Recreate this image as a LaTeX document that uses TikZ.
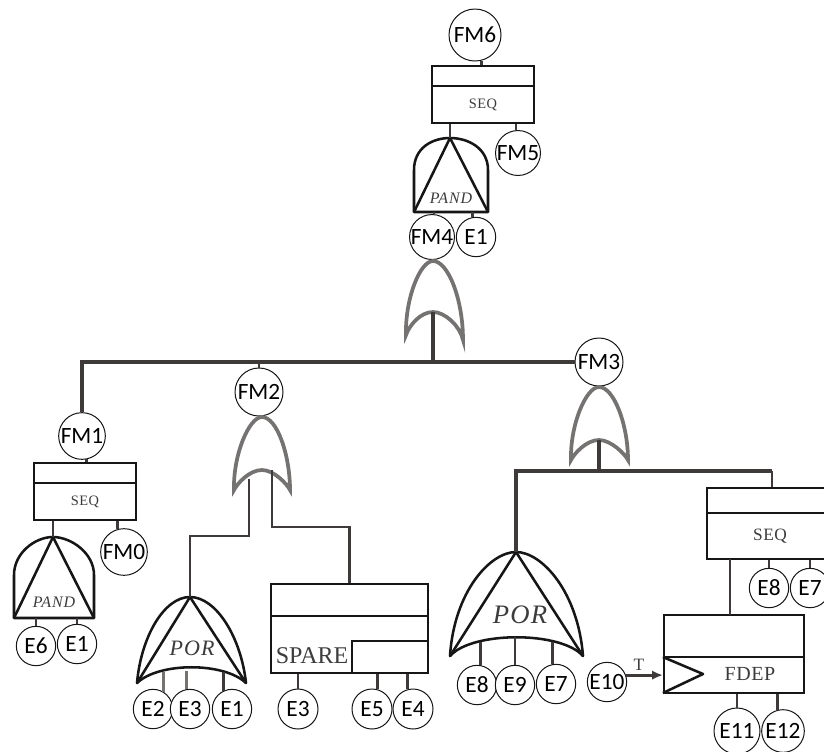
\documentclass[tikz,border=0pt]{standalone}
\usepackage{fontspec}
\setmainfont{Liberation Serif}
\newfontfamily\labelfont{Carlito}
\usetikzlibrary{arrows.meta}
\definecolor{ink}{HTML}{161616}
\definecolor{bar}{HTML}{3E3A3A}
\definecolor{orgray}{HTML}{757272}
\definecolor{softtxt}{HTML}{3C3C3C}
\tikzset{
  ev/.style={circle,draw=ink,line width=0.75pt,fill=white,inner sep=0pt,font=\labelfont\fontsize{17.5}{19}\selectfont,text=black},
  smallev/.style={ev,minimum size=29.5pt},
  boxst/.style={rectangle,draw=ink,line width=1.7pt,inner sep=0pt},
  gateline/.style={draw=ink,line width=1.9pt,line join=round},
  orline/.style={draw=orgray,line width=2.8pt,line join=miter,miter limit=8,fill=white},
  wire/.style={draw=bar,line width=2.2pt},
  graywire/.style={draw=orgray,line width=2.2pt},
  bus/.style={draw=bar,line width=2.4pt,line join=miter},
  seqtxt/.style={text=softtxt,inner sep=0pt,font=\addfontfeature{LetterSpace=3}\fontsize{10.8}{12}\selectfont},
  bigtxt/.style={text=softtxt,inner sep=0pt,font=\addfontfeature{LetterSpace=3}\fontsize{15}{17}\selectfont},
  sparetxt/.style={text=softtxt,inner sep=0pt,font=\fontsize{18}{20}\selectfont},
  gatetxt/.style={text=softtxt,inner sep=0pt,font=\itshape\addfontfeature{LetterSpace=5}\fontsize{#1}{#1}\selectfont},
}
% name, x1, y1, x2, y2, divider y
\newcommand{\rbox}[6]{%
  \pgfmathsetmacro\bw{(#4-#2)*0.75}\pgfmathsetmacro\bh{(#5-#3)*0.75}%
  \node[boxst,minimum width=\bw pt,minimum height=\bh pt] (#1) at ({(#2+#4)/2},{(#3+#5)/2}) {};
  \draw[boxst] (#1.west |- 0,#6) -- (#1.east |- 0,#6);
}
% name, apex x, apex y, left x, right x, shoulder y, base y
\newcommand{\pandgate}[7]{%
  \coordinate (#1-a) at (#2,#3);
  \coordinate (#1-l) at (#4,#7);
  \coordinate (#1-r) at (#5,#7);
  \draw[gateline] (#1-l) -- (#4,#6) .. controls (#4,{#6-22}) and ({#2-18},#3) .. (#1-a)
    .. controls ({#2+18},#3) and (#5,{#6-22}) .. (#5,#6) -- (#1-r) -- cycle;
  \draw[gateline] (#1-l) -- (#1-a) -- (#1-r);
}
% name, apex x, apex y, left x, right x, tip y, control y of the lower arc
\newcommand{\porgate}[7]{%
  \coordinate (#1-a) at (#2,#3);
  \coordinate (#1-l) at (#4,#6);
  \coordinate (#1-r) at (#5,#6);
  \draw[gateline] (#1-l) .. controls ({#4+4},{#3+40}) and ({#2-26},#3) .. (#1-a)
    .. controls ({#2+26},#3) and ({#5-5},{#3+40}) .. (#1-r)
    .. controls ({#5-22},#7) and ({#4+22},#7) .. cycle;
  \draw[gateline] (#1-l) -- (#1-a) -- (#1-r);
}
% name, apex x, apex y, left x, left y, right x, right y, notch y
\newcommand{\orgate}[8]{%
  \coordinate (#1-a) at (#2,#3);
  \coordinate (#1-n) at (#2,#8);
  \draw[orline] (#4,#5) .. controls ({#4-1},{#3+38}) and ({#2-13},#3) .. (#1-a)
    .. controls ({#2+15},#3) and (#6,{#3+38}) .. (#6,#7)
    .. controls ({#6-3},{#8+14}) and ({#2+12},#8) .. (#1-n)
    .. controls ({#2-13},#8) and ({#4+3},{#8+14}) .. cycle;
}
\begin{document}
\begin{tikzpicture}[x=0.75pt,y=-0.75pt]
\useasboundingbox (0,0) rectangle (824,751);
\fill[white] (0,0) rectangle (824,751);

% ---- top branch
\node[ev,minimum size=39pt] (fm6) at (475,35) {FM6};
\rbox{seqa}{432}{66}{534}{123}{86}
\node[seqtxt] (seqatxt) at (483,105) {SEQ};
\node[ev,minimum size=33pt] (fm5) at (518,153) {FM5};
\pandgate{panda}{450}{138}{414}{488}{170}{212}
\node[gatetxt=12] (pandatxt) at (451,198) {PAND};
\node[ev,minimum size=33pt] (fm4) at (432,237) {FM4};
\node[smallev] (e1a) at (476,237) {E1};
\draw[wire] (fm6.-75) -- (fm6.-75 |- seqa.north);
\draw[wire] (seqa.south -| panda-a) -- (panda-a);
\draw[wire] (fm5.95) -- (fm5.95 |- seqa.south);
\draw[wire] (fm4.85) -- (fm4.85 |- panda-l);
\draw[wire] (e1a.100) -- (e1a.100 |- panda-l);
\orgate{ora}{433}{261}{406}{335}{463}{340}{312}

% ---- horizontal bus
\node[ev,minimum size=36pt] (fm3) at (599,362) {FM3};
\node[ev,minimum size=35pt] (fm1) at (82,436) {FM1};
\node[ev,minimum size=36pt] (fm2) at (259,392) {FM2};
\draw[bus] (fm1.north) -- (fm1.north |- fm3.west) -- (fm3.west);
\draw[wire] (fm2.north) -- (fm2.north |- fm3.west);
\draw[bus] (ora-n) -- (ora-n |- fm3.west);

% ---- FM1 branch
\rbox{seqb}{34}{463}{136}{520}{483}
\node[seqtxt] (seqbtxt) at (85,502) {SEQ};
\node[ev,minimum size=35pt] (fm0) at (124,552) {FM0};
\pandgate{pandb}{53}{537}{14}{94}{575}{618}
\node[gatetxt=12] (pandbtxt) at (54,602) {PAND};
\node[smallev] (e6) at (36,646) {E6};
\node[smallev] (e1b) at (77,644) {E1};
\draw[wire] (fm1.-80) -- (fm1.-80 |- seqb.north);
\draw[wire] (seqb.south -| pandb-a) -- (pandb-a);
\draw[wire] (fm0.105) -- (fm0.105 |- seqb.south);
\draw[wire] (e6.north) -- (e6.north |- pandb-l);
\draw[wire] (e1b.north) -- (e1b.north |- pandb-l);

% ---- FM2 branch
\orgate{orb}{262}{417}{234}{490}{290}{490}{470}
\porgate{pora}{190}{597}{137}{246}{683}{662}
\node[gatetxt=16.5] (poratxt) at (192,648) {POR};
\node[smallev] (e2) at (153,709) {E2};
\node[smallev] (e3a) at (190,709) {E3};
\node[smallev] (e1c) at (232,709) {E1};
\draw[graywire] (e2.60) -- (e2.60 |- 0,672);
\draw[graywire] (e3a.100) -- (e3a.100 |- 0,671);
\draw[wire] (e1c.115) -- (e1c.115 |- 0,672);
\rbox{spare}{271}{584}{428}{673}{616}
\node[sparetxt] (sparetxt) at (312,656) {SPARE};
\node[boxst,minimum width=57pt,minimum height=24pt] (sparein) at (390,657) {};
\node[ev,minimum size=30pt] (e3b) at (298,709) {E3};
\node[ev,minimum size=30pt] (e5) at (372,709) {E5};
\node[ev,minimum size=30pt] (e4) at (413,709) {E4};
\draw[wire] (e3b.north) -- (e3b.north |- spare.south);
\draw[wire] (e5.75) -- (e5.75 |- spare.south);
\draw[wire] (e4.105) -- (e4.105 |- spare.south);
\draw[wire] (249,479) -- (249,536) -- (pora-a |- 0,536) -- (pora-a);
\draw[wire] (272,470) -- (272,527) -- (spare.north |- 0,527) -- (spare.north);

% ---- FM3 branch
\orgate{orc}{599}{387}{571}{460}{628}{460}{440}
\draw[bus] (orc-n) -- (orc-n |- 0,471);
\porgate{porb}{516}{552}{450}{583}{656}{631}
\node[gatetxt=20] (porbtxt) at (520,615) {POR};
\node[smallev] (e8a) at (477,685) {E8};
\node[smallev] (e9) at (515,685) {E9};
\node[smallev] (e7a) at (556,684) {E7};
\draw[wire] (e8a.80) -- (e8a.80 |- 0,642);
\draw[wire] (e9.north) -- (e9.north |- 0,637);
\draw[wire] (e7a.100) -- (e7a.100 |- 0,642);
\rbox{seqc}{707}{488}{826}{559}{513}
\node[bigtxt,font=\addfontfeature{LetterSpace=3}\fontsize{13}{15}\selectfont] (seqctxt) at (770,536) {SEQ};
\node[smallev] (e8b) at (769,588) {E8};
\node[smallev] (e7b) at (810,588) {E7};
\draw[bus] (porb-a) -- (porb-a |- 0,471) -- (772,471);
\draw[wire] (772,471) -- (seqc.north -| 772,0);
\draw[wire] (e8b.north) -- (e8b.north |- seqc.south);
\draw[wire] (e7b.north) -- (e7b.north |- seqc.south);
\rbox{fdep}{664}{615}{804}{693}{657}
\node[bigtxt] (fdeptxt) at (750,674) {FDEP};
\draw[gateline] (fdep.west |- 0,657) -- (703,674) -- (fdep.west |- 0,693);
\draw[wire] (730,559) -- (730,615);
\node[smallev] (e10) at (607,682) {E10};
\coordinate (trig) at (fdep.west |- 0,674);
\draw[wire,-{Latex[length=8pt,width=7pt]}] (e10.20) -- (e10.20 -| trig);
\node[text=softtxt,inner sep=0pt,font=\fontsize{13}{14}\selectfont] (tlabel) at (639,665) {T};
\node[ev,minimum size=34.5pt] (e11) at (737,731) {E11};
\node[ev,minimum size=32pt] (e12) at (783,731) {E12};
\draw[wire] (e11.north) -- (e11.north |- fdep.south);
\draw[wire] (e12.105) -- (e12.105 |- fdep.south);
\end{tikzpicture}
\end{document}
